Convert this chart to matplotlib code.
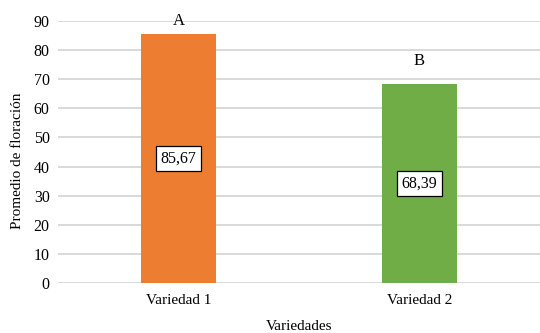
import matplotlib
matplotlib.use("Agg")
from matplotlib import pyplot as plt, rcParams

rcParams.update({
    'font.family': ['Liberation Serif', 'DejaVu Serif'],
    'font.size': 11,
    'axes.labelsize': 11,
    'xtick.labelsize': 11,
    'ytick.labelsize': 11.5,
})

variedades = ["Variedad 1", "Variedad 2"]
promedios = [85.67, 68.39]
etiquetas = ["85,67", "68,39"]
letras = ["A", "B"]
colores = ["#ED7D31", "#70AD47"]
yticks = list(range(0, 100, 10))

fig = plt.figure(figsize=(5.4, 3.33), dpi=100)
ax = fig.add_axes([58 / 540, 1 - 283 / 333, 482 / 540, 262 / 333])

x = list(range(len(variedades)))
bars = ax.bar(x, promedios, width=0.31, color=colores, zorder=3)

# valor dentro de cada barra, en caja blanca
for b, txt in zip(bars, etiquetas):
    ax.text(b.get_x() + b.get_width() / 2, b.get_height() / 2, txt,
            ha='center', va='center', zorder=4, fontsize=11.5,
            bbox=dict(boxstyle='square,pad=0.3', fc='white', ec='black', lw=0.9))

# letras de significancia sobre las barras
offsets = [3, 11]
for b, letra, off in zip(bars, letras, offsets):
    ax.annotate(letra, (b.get_x() + b.get_width() / 2, b.get_height()),
                xytext=(0, off), textcoords='offset points',
                ha='center', va='bottom', fontsize=12)

ax.set_xlim(-0.5, 1.5)
ax.set_ylim(0, 90)
ax.set_yticks(yticks)
ax.set_xticks(x)
ax.set_xticklabels(variedades)
ax.yaxis.grid(True, color='#D9D9D9', lw=1.4, zorder=0)
ax.set_axisbelow(True)
for s in ax.spines.values():
    s.set_visible(False)
ax.tick_params(axis='both', length=0)
ax.tick_params(axis='y', pad=6)
ax.tick_params(axis='x', pad=8)
ax.set_xlabel("Variedades", labelpad=9)
ax.set_ylabel("Promedio de floración")
ax.yaxis.set_label_coords(-0.071, 0.466)

fig.savefig("out.png", dpi=100)
